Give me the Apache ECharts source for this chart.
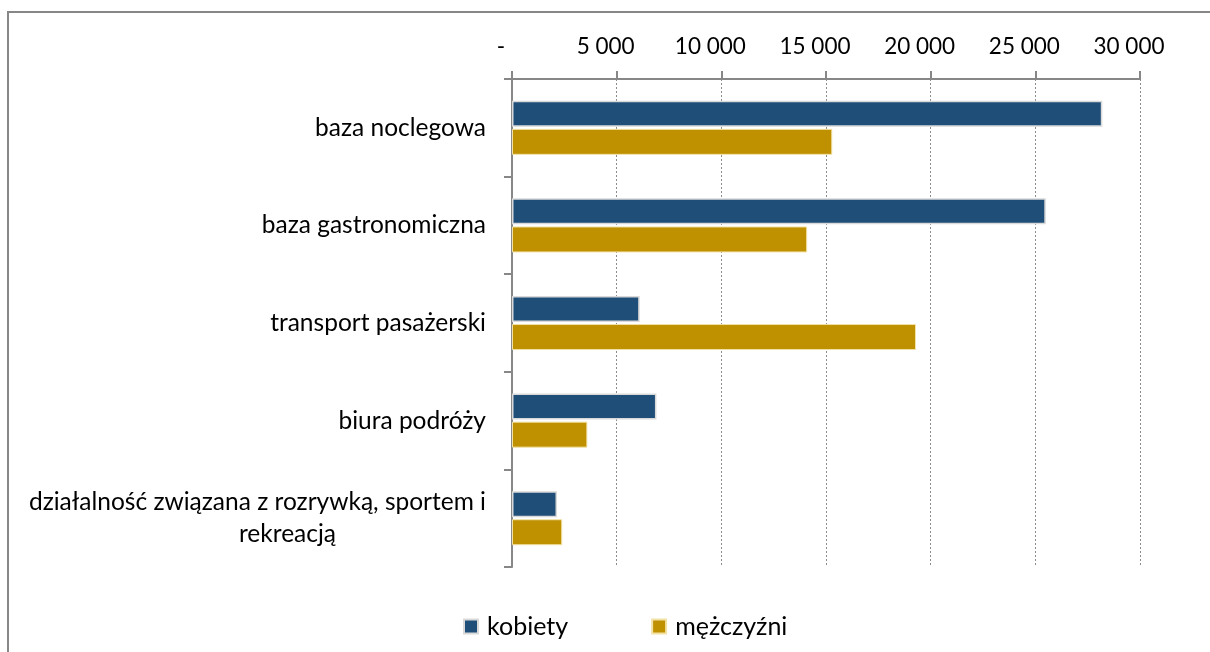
<!DOCTYPE html>
<html lang="pl">
<head>
    <meta charset="UTF-8">
    <title>Zatrudnieni wg płci</title>
    <script src="https://cdn.jsdelivr.net/npm/echarts@6/dist/echarts.min.js"></script>
    <style>
      *{margin:0;padding:0}
      html,body{width:100%;height:100%;background:#fff}
      #main{width:1210px;height:652px}
    </style>
</head>
<body>
<div id="main"></div>
<script>
    var categories = [
        'baza noclegowa',
        'baza gastronomiczna',
        'transport pasażerski',
        'biura podróży',
        'działalność związana z rozrywką, sportem i\nrekreacją'
    ];
    var kobiety = [28200, 25500, 6100, 6900, 2150];
    var mezczyzni = [15300, 14100, 19300, 3600, 2400];
    var seriesNames = ['kobiety', 'mężczyźni'];

    var font = 'Lato, "Open Sans", sans-serif';
    var chart = echarts.init(document.getElementById('main'));

    // etykiety osi w stylu Excela: 0 jako "-", spacja jako separator tysięcy
    function fmt(v) {
        if (v === 0) return '-';
        return String(v).replace(/\B(?=(\d{3})+(?!\d))/g, ' ');
    }

    var option = {
        backgroundColor: '#fff',
        animation: false,
        graphic: [{
            type: 'rect',
            shape: {x: 8, y: 12, width: 1220, height: 700},
            style: {fill: 'none', stroke: '#878787', lineWidth: 2},
            silent: true
        }],
        grid: {left: 512, right: 70, top: 79, bottom: 85},
        legend: {
            bottom: 8,
            left: 458,
            itemWidth: 14,
            itemHeight: 14,
            itemGap: 83,
            icon: 'rect',
            textStyle: {fontFamily: font, fontSize: 25, color: '#000', padding: [0, 0, 0, 4]},
            data: seriesNames
        },
        xAxis: {
            type: 'value',
            position: 'top',
            min: 0,
            max: 30000,
            interval: 5000,
            axisLine: {show: true, lineStyle: {color: '#878787', width: 2}},
            axisTick: {show: true, length: 8, lineStyle: {color: '#878787', width: 2}},
            axisLabel: {
                fontFamily: font, fontSize: 22.5, color: '#000', margin: 21,
                padding: [0, 22, 0, 0],
                formatter: fmt
            },
            splitLine: {show: true, lineStyle: {color: '#8c8c8c', type: [2, 2], width: 1}}
        },
        yAxis: {
            type: 'category',
            inverse: true,
            data: categories,
            axisLine: {show: true, lineStyle: {color: '#878787', width: 2}},
            axisTick: {show: true, length: 8, lineStyle: {color: '#878787', width: 2}},
            axisLabel: {
                fontFamily: font, fontSize: 24.5, color: '#000', margin: 26, lineHeight: 32,
                formatter: function (v) {
                    var parts = v.split('\n');
                    if (parts.length < 2) return v;
                    return parts[0] + '\n{c|' + parts[1] + '}';
                },
                rich: {
                    c: {fontFamily: font, fontSize: 24.5, color: '#000', align: 'right', padding: [0, 150, 0, 0], lineHeight: 32}
                }
            }
        },
        series: [{
            name: seriesNames[0],
            type: 'bar',
            data: kobiety,
            barWidth: 26,
            barGap: '8%',
            itemStyle: {color: '#1f4e79', borderColor: '#d9d9d9', borderWidth: 1.5}
        }, {
            name: seriesNames[1],
            type: 'bar',
            data: mezczyzni,
            barWidth: 26,
            itemStyle: {color: '#bf9000', borderColor: '#f2e2a6', borderWidth: 1}
        }]
    };
    chart.setOption(option);
</script>
</body>
</html>
